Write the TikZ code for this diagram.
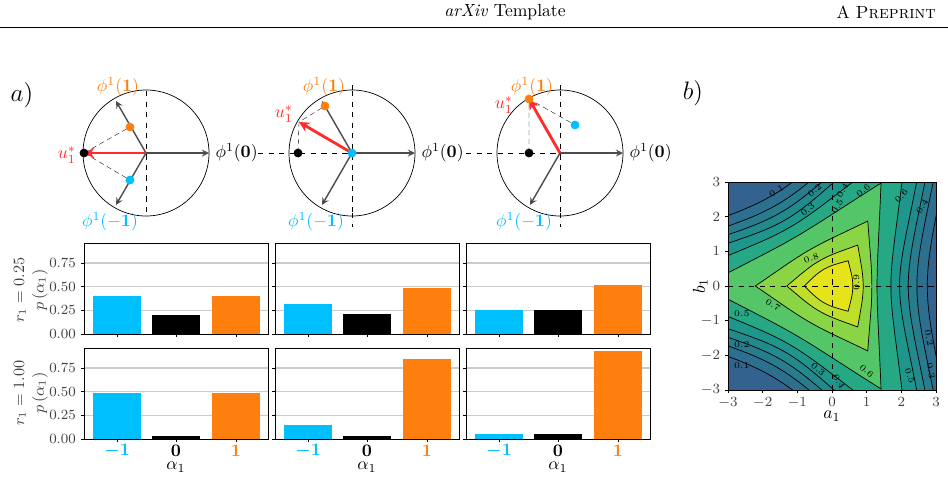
\documentclass[tikz,border=0pt]{standalone}
\usepackage{amsmath}
\definecolor{ocol}{HTML}{FF7F0E}
\definecolor{ccol}{HTML}{00BFFF}
\definecolor{ucol}{HTML}{FF2A2A}
\definecolor{v0}{HTML}{32628D}
\definecolor{v1}{HTML}{2D6F8E}
\definecolor{v2}{HTML}{287C8E}
\definecolor{v3}{HTML}{22898D}
\definecolor{v4}{HTML}{1F968B}
\definecolor{v5}{HTML}{25A883}
\definecolor{v6}{HTML}{55C667}
\definecolor{v7}{HTML}{8AD546}
\definecolor{v8}{HTML}{BFDF2A}
\definecolor{v9}{HTML}{E6E31B}
\tikzset{
  phivec/.style = {-stealth, thick, black!70},
  uvec/.style = {-stealth, ultra thick, ucol},
  proj/.style = {densely dashed, very thin},
  axisdash/.style = {dashed, thin},
  dot/.style = {circle, fill = #1, inner sep = 0pt, minimum size = 5pt},
  tick/.style = {font = \footnotesize, text = black!75},
  grid/.style = {black!20, thick}
}
\newcommand{\rtri}[3]{#1/(cos(mod(#3 + 60, 120) - 60))^(#2)}
\begin{document}
\begin{tikzpicture}[x = 0.02cm, y = -0.02cm]
  \useasboundingbox (0, 0) rectangle (948, 501);
  % header
  \node (head) at (505, 12) {\textit{arXiv} Template};
  \node[anchor = east] (prep) at (942, 12) {A \textsc{Preprint}};
  \draw (0, 27) coordinate (hl) -- (948, 27) coordinate (hr);
  \node (la) at (22, 95) {\Large $a)$};
  \node (lb) at (693, 93) {\Large $b)$};
  % circles
  \foreach \cx/\name in {146/one, 352/two, 560/three} {
    \begin{scope}[shift = {(\cx, 153)}, y = 0.02cm]
      \draw (0, 0) coordinate (O\name) circle (63);
      \draw[axisdash] (0, 62) -- (0, -62);
      \draw[phivec] (O\name) -- (0:63) coordinate (Z\name)
      node[right, black] (z\name) {$\phi^1(\mathbf{0})$};
      \draw[phivec] (O\name) -- (120:60);
      \draw[phivec] (O\name) -- (240:60);
      \node[ocol] (po\name) at (-28, 66) {$\phi^1(\mathbf{1})$};
      \node[ccol] (pc\name) at (-36, -69) {$\phi^1(\mathbf{-1})$};
    \end{scope}
  }
  \coordinate (Bone) at (84, 153);
  \coordinate (Uone) at (84, 153);
  \coordinate (Pone) at (130, 127);
  \coordinate (Cone) at (130, 180);
  \coordinate (Btwo) at (298, 153);
  \coordinate (Utwo) at (299, 122);
  \coordinate (Ptwo) at (325, 106);
  \coordinate (Ctwo) at (352, 153);
  \coordinate (Bthree) at (529, 153);
  \coordinate (Uthree) at (529, 99);
  \coordinate (Pthree) at (529, 99);
  \coordinate (Cthree) at (575, 125);
  % projections
  \draw[proj] (Bone) -- (Pone);
  \draw[proj] (Bone) -- (Cone);
  \draw[proj] (Btwo) -- (Utwo) -- (Ptwo);
  \draw[proj] (Bthree) -- (Pthree) -- (Cthree);
  \draw[axisdash] (258, 153) -- (Otwo);
  \draw[axisdash] (466, 153) -- (Othree);
  \draw[axisdash] (352, 85) -- (352, 93);
  \draw[axisdash] (352, 213) -- (352, 227);
  \draw[axisdash] (560, 85) -- (560, 93);
  \draw[axisdash] (560, 213) -- (560, 227);
  \foreach \name in {one, two, three} {
    \draw[uvec] (O\name) -- (U\name);
    \node[dot = black] (b\name) at (B\name) {};
    \node[dot = ocol] (o\name) at (P\name) {};
    \node[dot = ccol] (c\name) at (C\name) {};
  }
  \node[ucol] (uone) at (67, 155) {$u_1^*$};
  \node[ucol] (utwo) at (284, 114) {$u_1^*$};
  \node[ucol] (uthree) at (504, 105) {$u_1^*$};
  % bar panels
  \foreach \row/\yz in {1/334, 2/439} {
    \foreach \px/\va/\vb/\vc [count = \i] in
        {84/0.40/0.20/0.40, 275/0.32/0.21/0.49, 466/0.25/0.25/0.52} {
      \ifnum\row=2
        \ifcase\i\or\def\va{0.49}\def\vb{0.03}\def\vc{0.49}%
        \or\def\va{0.15}\def\vb{0.03}\def\vc{0.84}%
        \or\def\va{0.05}\def\vb{0.05}\def\vc{0.93}\fi
      \fi
      \foreach \g in {0.25, 0.5, 0.75}
        \draw[grid] (\px, \yz - 94.7*\g) -- (\px + 184, \yz - 94.7*\g);
      \fill[ccol] (\px + 9, \yz) rectangle (\px + 57, \yz - 94.7*\va);
      \fill[black] (\px + 68, \yz) rectangle (\px + 116, \yz - 94.7*\vb);
      \fill[ocol] (\px + 128, \yz) rectangle (\px + 176, \yz - 94.7*\vc);
      \draw (\px, \yz - 91) rectangle (\px + 184, \yz);
      \foreach \t in {33, 92, 152}
        \draw (\px + \t, \yz) -- (\px + \t, \yz + 3);
      \foreach \g in {0, 0.25, 0.5, 0.75}
        \draw (\px, \yz - 94.7*\g) -- (\px - 3, \yz - 94.7*\g);
    }
    \foreach \g in {0.00, 0.25, 0.50, 0.75}
      \node[tick, anchor = east] (t\row\g) at (82, \yz - 94.7*\g) {\g};
  }
  \node[rotate = 90, text = black!75, font = \small] (ra) at (20, 290) {$r_1 = 0.25$};
  \node[rotate = 90, text = black!75, font = \small] (pa) at (40, 290) {$p\,(\alpha_1)$};
  \node[rotate = 90, text = black!75, font = \small] (rb) at (20, 393) {$r_1 = 1.00$};
  \node[rotate = 90, text = black!75, font = \small] (pb) at (40, 393) {$p\,(\alpha_1)$};
  \foreach \px [count = \i] in {84, 275, 466} {
    \node[ccol] (m\i) at (\px + 33, 451) {$\boldsymbol{-1}$};
    \node (z\i) at (\px + 92, 451) {$\mathbf{0}$};
    \node[ocol] (p\i) at (\px + 152, 451) {$\mathbf{1}$};
    \node (x\i) at (\px + 92, 467) {$\alpha_1$};
  }
  % contour plot
  \begin{scope}[shift = {(832, 286)}, x = 0.6934cm, y = 0.6934cm]
    \begin{scope}
      \clip (-3, -3) rectangle (3, 3);
      \fill[v0] (-3, -3) rectangle (3, 3);
      \foreach \col/\d/\k/\s in {v1/3.0/1.5/-0.25, v2/2.7/1.5/-0.25,
          v3/2.45/1.5/-0.25, v4/2.2/1.5/-0.25, v5/1.95/1.3/-0.25,
          v6/1.6/1.1/-0.3, v7/1.2/0.85/-0.05, v8/0.84/0.7/0.06,
          v9/0.556/0.6/0.044} {
        \filldraw[fill = \col, draw = black, thin] plot[domain = 0:360,
          samples = 181] ({\s + \rtri{\d}{\k}{\x}*cos(\x)},
          {\rtri{\d}{\k}{\x}*sin(\x)}) -- cycle;
      }
      \draw[axisdash] (-3, 0) -- (3, 0);
      \draw[axisdash] (0, -3) -- (0, 3);
    \end{scope}
    \draw (-3, -3) rectangle (3, 3);
    \foreach \v in {-3, ..., 3} {
      \draw (\v, -3) -- (\v, -3.08);
      \draw (-3, \v) -- (-3.08, \v);
      \node[tick, below] (ax\v) at (\v, -3.05) {$\v$};
      \node[tick, left] (ay\v) at (-3.05, \v) {$\v$};
    }
    \node (alab) at (0, -3.75) {$a_1$};
    \node[rotate = 90] (blab) at (-3.8, 0) {$b_1$};
    % contour labels
    \foreach \lx/\ly/\lt/\ang [count = \k] in {-1.6/2.75/0.1/30,
        -0.5/2.75/0.2/40, -0.7/2.2/0.3/40, 0.3/2.75/0.4/60, 0.15/2.3/0.5/60,
        0.9/2.75/0.6/40, 2.0/2.6/0.6/50, 2.6/2.3/0.4/60, -0.6/0.8/0.8/20,
        0.7/0.1/0.9/90, -1.7/-0.55/0.7/-30, -2.6/-0.8/0.5/0,
        -2.6/-1.7/0.2/0, -2.6/-2.3/0.1/0, -0.4/-2.4/0.3/-40,
        0.2/-2.75/0.4/-60, 1.0/-2.45/0.6/-40, 2.25/-2.6/0.5/-70,
        2.8/-1.5/0.2/-80, 2.85/-2.45/0.3/-80} {
      \node[font = \tiny, rotate = \ang, inner sep = 0.5pt]
      (cl\k) at (\lx, \ly) {\lt};
    }
  \end{scope}
\end{tikzpicture}
\end{document}
